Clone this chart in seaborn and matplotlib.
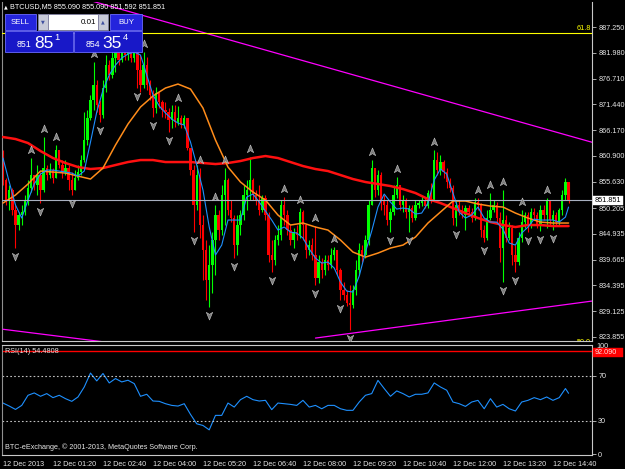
#!/usr/bin/env python3
"""BTCUSD M5 chart in MetaTrader look: candles, moving averages, fractals, RSI(14)."""

import matplotlib
matplotlib.use("Agg")
import matplotlib.pyplot as plt
from matplotlib.path import Path
from matplotlib.patches import Rectangle
from matplotlib.transforms import offset_copy
import numpy as np
import pandas as pd
import seaborn as sns

# ---- data -------------------------------------------------------------------
OPEN0 = 860.03

close = [855.94, 851.84, 853.89, 849.80, 846.73, 848.77, 849.39, 851.84, 854.30, 856.96,
         854.91, 856.96, 853.89, 858.39, 856.96, 857.98, 856.35, 862.08, 859.01, 857.57,
         858.39, 855.94, 853.89, 856.35, 857.57, 860.03, 864.12, 868.63, 872.31, 875.38,
         871.29, 869.24, 874.77, 879.47, 877.43, 880.91, 882.13, 880.50, 882.95, 881.52,
         882.54, 880.91, 882.13, 878.45, 875.38, 879.47, 875.38, 873.33, 870.67, 873.74,
         871.90, 870.26, 869.85, 868.22, 869.85, 867.81, 868.63, 867.19, 868.63, 862.49,
         857.98, 850.82, 856.96, 846.73, 841.61, 835.47, 838.54, 843.66, 848.77, 845.70,
         852.87, 855.94, 849.80, 848.16, 842.63, 846.73, 848.77, 852.87, 853.89, 855.94,
         852.87, 851.84, 849.80, 852.25, 848.77, 840.59, 839.56, 843.66, 844.68, 850.82,
         848.77, 845.70, 843.66, 845.29, 844.68, 849.39, 846.73, 841.61, 842.63, 840.59,
         835.88, 839.15, 837.52, 839.56, 838.54, 840.59, 841.61, 837.52, 833.42, 832.40,
         830.76, 830.35, 833.42, 837.52, 841.61, 840.59, 843.66, 850.82, 858.39, 853.89,
         856.96, 851.84, 850.82, 847.75, 849.39, 852.87, 854.91, 850.82, 851.84, 849.39,
         850.21, 848.16, 850.82, 851.23, 851.84, 850.61, 853.28, 851.84, 860.03, 857.98,
         859.62, 857.57, 855.53, 854.30, 848.16, 850.82, 849.80, 848.77, 850.21, 849.39,
         848.16, 851.43, 850.82, 845.70, 844.07, 848.16, 849.80, 850.82, 848.16, 842.02,
         847.75, 844.07, 846.11, 840.59, 839.15, 844.07, 847.34, 848.77, 846.73, 849.39,
         848.77, 846.73, 849.80, 848.77, 851.84, 847.75, 848.77, 847.34, 849.80, 852.87,
         855.53, 851.85]

high = [862.08, 856.35, 854.91, 854.30, 850.82, 849.39, 850.82, 852.87, 855.94, 860.44,
        856.96, 859.01, 857.57, 864.74, 859.01, 859.42, 858.39, 863.10, 861.67, 860.03,
        860.03, 859.01, 857.57, 857.98, 859.01, 861.05, 869.85, 870.26, 873.33, 880.09,
        876.40, 872.31, 876.40, 881.52, 880.50, 882.54, 883.98, 883.57, 885.00, 884.18,
        883.77, 882.95, 883.57, 882.95, 881.52, 882.13, 881.11, 876.40, 874.36, 874.97,
        873.95, 872.31, 871.90, 870.67, 871.29, 871.29, 871.08, 869.24, 869.24, 868.63,
        862.49, 859.01, 859.01, 858.39, 848.77, 843.66, 842.63, 845.29, 850.82, 849.80,
        854.91, 858.39, 856.35, 851.84, 848.77, 848.77, 849.80, 854.91, 855.94, 860.64,
        856.35, 853.89, 854.91, 852.87, 852.87, 849.39, 843.66, 844.68, 846.73, 851.84,
        852.46, 849.80, 846.73, 846.11, 846.73, 850.21, 849.80, 846.73, 843.66, 844.07,
        846.52, 840.59, 839.97, 840.59, 840.59, 842.02, 842.22, 841.61, 837.93, 835.06,
        833.42, 834.45, 834.45, 839.56, 843.04, 842.63, 844.68, 851.84, 860.03, 858.39,
        857.98, 857.57, 852.87, 851.84, 850.21, 854.91, 856.55, 854.91, 852.87, 852.25,
        850.82, 850.82, 851.84, 851.84, 852.66, 852.25, 853.89, 855.32, 862.08, 861.67,
        861.05, 860.03, 858.39, 856.35, 854.91, 851.84, 851.84, 850.82, 850.82, 850.82,
        850.21, 852.25, 852.25, 851.23, 846.73, 849.80, 853.28, 851.84, 851.43, 849.39,
        853.89, 848.77, 847.34, 846.73, 842.63, 845.29, 849.80, 849.39, 849.39, 850.21,
        850.21, 849.39, 850.82, 850.82, 852.25, 851.84, 849.80, 849.39, 850.21, 853.89,
        856.35, 855.53]

low = [854.91, 850.82, 849.80, 848.77, 842.02, 845.70, 846.73, 848.77, 850.82, 853.48,
       853.89, 852.87, 851.23, 853.48, 855.94, 856.35, 855.32, 856.35, 858.39, 856.35,
       856.96, 853.89, 852.87, 854.30, 855.94, 856.96, 859.62, 863.10, 868.22, 870.26,
       869.85, 867.81, 868.63, 873.95, 876.40, 876.81, 878.04, 879.47, 880.09, 880.50,
       880.50, 880.09, 880.09, 874.77, 873.95, 874.77, 874.36, 872.31, 868.83, 869.65,
       870.67, 868.83, 868.63, 865.76, 866.58, 866.78, 867.19, 866.58, 866.58, 862.08,
       856.96, 845.29, 849.80, 844.07, 835.47, 831.38, 829.94, 832.81, 836.49, 843.66,
       844.68, 846.73, 848.77, 847.34, 839.97, 840.59, 844.68, 847.75, 849.80, 851.84,
       851.84, 850.82, 848.77, 849.39, 847.75, 839.15, 837.11, 838.54, 842.63, 843.66,
       846.73, 844.68, 842.63, 842.02, 843.66, 844.07, 843.66, 839.97, 840.59, 839.56,
       834.45, 834.86, 835.88, 836.49, 837.52, 837.93, 839.56, 836.49, 831.38, 831.38,
       830.15, 825.24, 829.74, 832.40, 836.49, 839.15, 839.97, 842.63, 850.82, 852.46,
       852.87, 849.80, 848.77, 846.73, 845.29, 848.77, 852.25, 849.80, 849.39, 848.16,
       845.29, 847.34, 847.75, 850.21, 850.61, 850.21, 850.21, 851.23, 851.84, 856.96,
       856.96, 856.35, 854.30, 853.48, 846.73, 846.52, 848.77, 848.16, 845.70, 848.57,
       847.34, 847.75, 849.80, 844.27, 843.25, 843.66, 847.75, 849.39, 847.34, 839.15,
       835.06, 843.25, 843.66, 838.54, 837.11, 838.54, 843.25, 846.11, 845.29, 846.11,
       847.75, 846.11, 845.50, 847.75, 846.11, 846.73, 845.70, 846.52, 846.73, 848.77,
       851.84, 851.23]

# fast MA (blue), every 2nd bar + last bar
ma_fast = [860.44, 855.53, 850.82, 848.16, 851.84, 855.12, 857.16, 857.98, 857.98, 857.78,
           857.57, 857.37, 856.75, 857.78, 863.71, 869.85, 874.36, 877.43, 879.47, 880.91,
           881.72, 882.13, 881.52, 877.43, 873.33, 871.08, 869.65, 868.42, 867.60, 867.19,
           863.71, 859.01, 853.89, 846.32, 840.59, 842.63, 847.75, 847.75, 847.75, 852.46,
           853.07, 851.43, 849.59, 847.75, 845.70, 846.32, 845.29, 845.09, 844.07, 841.81,
           839.97, 838.95, 839.15, 837.93, 835.06, 833.22, 833.01, 836.29, 841.20, 845.50,
           850.41, 853.07, 851.43, 850.00, 850.21, 850.00, 848.98, 849.18, 851.23, 855.94,
           858.19, 857.16, 853.28, 849.39, 848.16, 848.77, 850.41, 848.16, 847.34, 847.34,
           845.91, 843.04, 842.63, 845.09, 846.32, 847.95, 847.75, 847.75, 847.75, 847.34,
           848.36, 850.41]

# medium MA (orange) and slow MA (red), every 4th bar + last bar
ma_mid = [851.23, 852.87, 855.12, 857.78, 857.57, 857.37, 856.75, 856.14, 858.39, 863.10,
          867.40, 870.88, 873.13, 874.77, 875.58, 874.56, 870.67, 864.12, 858.60, 855.53,
          853.48, 851.84, 848.77, 846.73, 847.14, 846.32, 845.70, 843.66, 841.20, 840.17,
          840.99, 842.02, 842.63, 844.27, 847.14, 849.39, 851.64, 851.64, 851.03, 850.61,
          850.41, 849.18, 848.16, 847.34, 847.14, 847.14, 847.14]

ma_slow = [864.74, 864.33, 863.51, 861.87, 860.44, 859.42, 858.60, 858.19, 858.39, 859.01,
           859.62, 860.03, 860.03, 859.62, 859.62, 859.62, 859.42, 859.21, 859.42, 859.83,
           860.44, 860.85, 860.44, 859.62, 858.80, 858.19, 857.78, 856.96, 856.14, 855.53,
           855.12, 854.71, 854.09, 853.28, 852.05, 851.23, 850.21, 849.18, 848.16, 847.34,
           846.73, 846.32, 846.73, 846.73, 846.52, 846.52, 846.52]

# RSI(14), every 2nd bar + last bar
rsi = [45.8, 43.1, 40.1, 43.7, 52.7, 54.8, 51.8, 54.2, 50.6, 52.7,
       49.7, 47.3, 51.2, 60.1, 72.5, 65.5, 72.1, 63.7, 67.6, 64.6,
       66.1, 63.1, 51.8, 53.6, 47.6, 47.3, 45.2, 43.7, 43.1, 45.2,
       35.7, 27.3, 25.8, 21.9, 34.8, 34.8, 45.8, 42.2, 48.8, 51.8,
       48.8, 47.6, 48.2, 39.9, 45.8, 45.2, 44.6, 43.7, 48.2, 42.2,
       43.7, 40.7, 43.7, 43.7, 40.7, 39.3, 39.3, 46.7, 52.7, 54.2,
       66.0, 58.7, 51.8, 56.6, 54.2, 51.2, 53.6, 53.6, 54.8, 63.7,
       60.1, 57.2, 46.7, 45.2, 42.8, 46.7, 48.2, 40.7, 49.7, 42.2,
       44.6, 40.7, 38.7, 46.7, 48.2, 50.6, 48.8, 51.2, 48.2, 50.6,
       58.7, 54.48]

up_fractals = [9, 13, 17, 29, 45, 56, 63, 68, 71, 79, 90, 95, 100, 106, 118, 126,
               138, 152, 156, 160, 166, 174]
down_fractals = [4, 12, 22, 31, 43, 48, 53, 61, 66, 74, 86, 93, 100, 108, 111, 124,
                 130, 145, 154, 160, 164, 168, 172, 176]

trend_upper = ([0, 190], [897.7, 863.4])
trend_low_left = ([0, 40], [825.4, 822.2])
trend_low_right = ([100, 190], [823.6, 831.3])

bid = 851.851
fib_618 = 886.02
fib_500 = 822.0
rsi_levels = [30, 70]
rsi_alert = 92.09

price_ticks = [887.250, 881.980, 876.710, 871.440, 866.170, 860.900, 855.630,
               850.205, 844.935, 839.665, 834.395, 829.125, 823.855]
time_ticks = list(range(0, 177, 16))
time_labels = ["12 Dec 2013", "12 Dec 01:20", "12 Dec 02:40", "12 Dec 04:00",
               "12 Dec 05:20", "12 Dec 06:40", "12 Dec 08:00", "12 Dec 09:20",
               "12 Dec 10:40", "12 Dec 12:00", "12 Dec 13:20", "12 Dec 14:40"]

# ---- style -------------------------------------------------------------------
sns.set_style("dark", {"axes.facecolor": "black", "figure.facecolor": "black",
                       "axes.edgecolor": "#c8c8c8"})
plt.rcParams["font.family"] = ["Liberation Sans", "DejaVu Sans"]
FS = 5.2
TXT = "#e6e6e6"

W, H = 625, 469
fig = plt.figure(figsize=(W / 100, H / 100), dpi=100)
fig.patch.set_facecolor("black")


def px_box(x0, y0, x1, y1):
    return [x0 / W, 1 - y1 / H, (x1 - x0) / W, (y1 - y0) / H]


ax = fig.add_axes(px_box(2, 2, 592, 341))
ax_rsi = fig.add_axes(px_box(2, 345, 592, 455))

# ---- candles -----------------------------------------------------------------
df = pd.DataFrame({"close": close, "high": high, "low": low})
df["open"] = [OPEN0] + close[:-1]
df["bar"] = np.arange(len(df))
colors = np.where(df["close"] >= df["open"], "#00ff00", "#ff0000")
top = df[["open", "close", "high"]].max(axis=1)
bot = df[["open", "close", "low"]].min(axis=1)
ax.vlines(df["bar"], bot, top, colors=colors, lw=0.8, zorder=2)
body_lo = df[["open", "close"]].min(axis=1)
body_h = (df["close"] - df["open"]).abs().clip(lower=0.2)
ax.bar(df["bar"], body_h, bottom=body_lo, width=0.74, color=colors, lw=0, zorder=2)

# ---- indicators ----------------------------------------------------------------
last = len(close) - 1
fast_bars = list(range(0, last, 2)) + [last]
slow_bars = list(range(0, last, 4)) + [last]
sns.lineplot(x=slow_bars, y=ma_slow, ax=ax, color="#ff1010", lw=1.8, zorder=3)
sns.lineplot(x=slow_bars, y=ma_mid, ax=ax, color="#ff8c1a", lw=1.1, zorder=3)
sns.lineplot(x=fast_bars, y=ma_fast, ax=ax, color="#1e90ff", lw=0.8, zorder=3)

for xs, ys in (trend_upper, trend_low_left, trend_low_right):
    ax.plot(xs, ys, color="#ff00ff", lw=0.9, zorder=3)

ax.axhline(bid, color="#a8b0c0", lw=0.8, zorder=3.5)
ax.axhline(fib_618, color="#ffff00", lw=0.8, zorder=3)
ax.text(0.998, fib_618 + 0.3, "61.8", ha="right", va="bottom", color="#ffff00",
        fontsize=FS, transform=ax.get_yaxis_transform())
ax.text(0.998, fib_500, "50.0", ha="right", va="bottom", color="#ffff00",
        fontsize=FS, transform=ax.get_yaxis_transform(), clip_on=True)

# fractal arrows
up_arrow = Path([(0, 1), (0.7, -0.7), (0, -0.25), (-0.7, -0.7), (0, 1)],
                [Path.MOVETO, Path.LINETO, Path.LINETO, Path.LINETO, Path.CLOSEPOLY])
down_arrow = Path([(0, -1), (0.7, 0.7), (0, 0.25), (-0.7, 0.7), (0, -1)],
                  [Path.MOVETO, Path.LINETO, Path.LINETO, Path.LINETO, Path.CLOSEPOLY])
above = offset_copy(ax.transData, fig=fig, y=8, units="dots")
below = offset_copy(ax.transData, fig=fig, y=-8, units="dots")
ax.plot(up_fractals, top[up_fractals], ls="none", marker=up_arrow, ms=6.5,
        mfc="#7c7c7c", mec="#c8c8c8", mew=0.4, transform=above, zorder=4)
ax.plot(down_fractals, bot[down_fractals], ls="none", marker=down_arrow, ms=6.5,
        mfc="#7c7c7c", mec="#c8c8c8", mew=0.4, transform=below, zorder=4)

ax.set_xlim(-0.32, 188.5)
ax.set_ylim(823.0, 892.37)
ax.set_xlabel("")
ax.set_ylabel("")
ax.grid(False)
ax.set_xticks([])
ax.yaxis.tick_right()
ax.set_yticks(price_ticks)
ax.set_yticklabels([f"{p:.3f}" for p in price_ticks])
ax.tick_params(axis="y", length=3, width=0.6, pad=1.5, colors="#c8c8c8",
               labelcolor=TXT, labelsize=FS)

# ---- RSI panel -----------------------------------------------------------------
sns.lineplot(x=fast_bars, y=rsi, ax=ax_rsi, color="#1e90ff", lw=0.8)
for lv in rsi_levels:
    ax_rsi.axhline(lv, color="#c0c0c0", lw=0.8, ls=(0, (1.5, 2)))
ax_rsi.axhline(rsi_alert, color="#ff0000", lw=1.0)
ax_rsi.set_xlim(-0.32, 188.5)
ax_rsi.set_ylim(-0.5, 97.5)
ax_rsi.set_xlabel("")
ax_rsi.set_ylabel("")
ax_rsi.grid(False)
ax_rsi.yaxis.tick_right()
ax_rsi.set_yticks([0] + rsi_levels)
ax_rsi.set_xticks(time_ticks)
ax_rsi.set_xticklabels(time_labels, ha="left")
ax_rsi.tick_params(axis="both", length=3, width=0.6, pad=1.5, colors="#c8c8c8",
                   labelcolor=TXT, labelsize=FS)
ax_rsi.text(0.005, 0.97, "RSI(14) 54.4808", transform=ax_rsi.transAxes, ha="left",
            va="top", color=TXT, fontsize=FS)
ax_rsi.text(0.005, 0.04, "BTC-eExchange, \u00a9 2001-2013, MetaQuotes Software Corp.",
            transform=ax_rsi.transAxes, ha="left", va="bottom", color=TXT, fontsize=FS)

for a in (ax, ax_rsi):
    a.spines["left"].set_color("#909090")
    for s in ("right", "bottom", "top"):
        a.spines[s].set_color("#c8c8c8")
    a.spines["left"].set_linewidth(0.8)
    a.spines["right"].set_linewidth(0.8)
ax.spines["top"].set_visible(False)

# ---- overlay: header, trade panel, axis price boxes ----------------------------
ov = fig.add_axes([0, 0, 1, 1], zorder=10)
ov.set_xlim(0, W)
ov.set_ylim(H, 0)
ov.axis("off")


def box(x0, y0, x1, y1, fc, ec, lw=0.6):
    ov.add_patch(Rectangle((x0, y0), x1 - x0, y1 - y0, facecolor=fc, edgecolor=ec, lw=lw))


ov.text(4, 7, "\u25b2", fontsize=3.5, color="white", va="center", family="DejaVu Sans")
ov.text(10, 7, "BTCUSD,M5 855.090 855.090 851.592 851.851", fontsize=FS,
        color="white", va="center")

BTN = "#2424dc"
EDGE = "#6a6aff"
box(5, 14, 36, 30, BTN, EDGE)
ov.text(20.5, 22.5, "SELL", fontsize=5.6, color="white", ha="center", va="center")
box(110, 14, 142, 30, BTN, EDGE)
ov.text(126, 22.5, "BUY", fontsize=5.6, color="white", ha="center", va="center")
box(38, 14, 48, 30, "#c8cad8", "#8080a0")
box(48, 14, 98, 30, "white", "#8080a0")
box(98, 14, 108, 30, "#c8cad8", "#8080a0")
ov.text(43, 22, "\u25bc", fontsize=3.5, color="#4050a0", ha="center", va="center",
        family="DejaVu Sans")
ov.text(103, 22, "\u25b2", fontsize=3.5, color="#4050a0", ha="center", va="center",
        family="DejaVu Sans")
ov.text(96, 22.5, "0.01", fontsize=5.8, color="black", ha="right", va="center")

box(5, 31, 73, 52, "#1818c8", EDGE)
box(74, 31, 142, 52, "#1818c8", EDGE)
for x_small, x_big, x_sup, small, big, sup in ((17, 34, 54, "851", "85", "1"),
                                               (86, 102, 123, "854", "35", "4")):
    ov.text(x_small, 47, small, fontsize=6.3, color="white", va="baseline")
    ov.text(x_big, 47.5, big, fontsize=12.5, color="white", va="baseline")
    ov.text(x_sup, 40, sup, fontsize=6.8, color="white", va="baseline")

box(593, 196, 623, 205, "white", "white", 0.3)
ov.text(595, 200.5, f"{bid:.3f}", fontsize=FS, color="black", va="center")

ov.text(596, 346, "100", fontsize=FS, color=TXT, va="center")
box(593, 348, 623, 357, "#ff0000", "#ff0000", 0.3)
ov.text(595, 352.5, f"{rsi_alert:.3f}", fontsize=FS, color="#ffe0e0", va="center")

fig.savefig("out.png", dpi=100, facecolor="black")
